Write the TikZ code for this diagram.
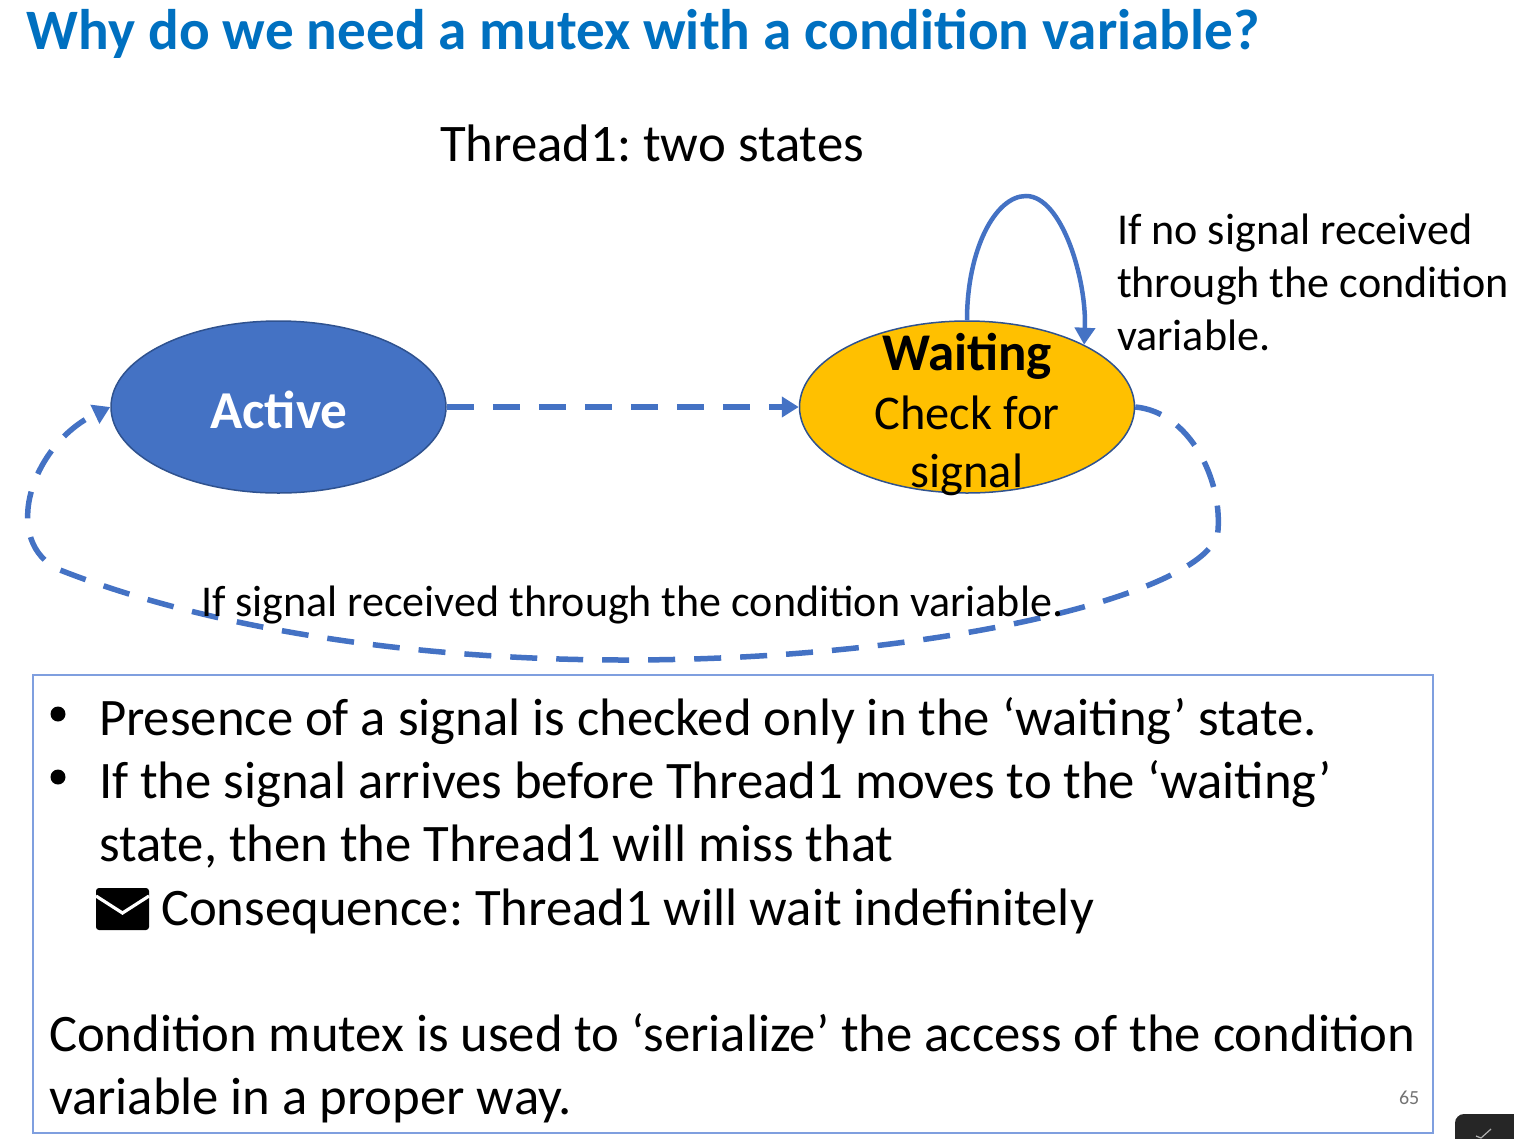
\documentclass[tikz,border=0pt]{standalone}
\usepackage{fontspec}
\setmainfont{Carlito}
\usetikzlibrary{arrows.meta,shapes.geometric}
\definecolor{bluea}{HTML}{4472C4}
\definecolor{blueb}{HTML}{2F528F}
\definecolor{titleb}{HTML}{0070C0}
\definecolor{amber}{HTML}{FFC000}
\definecolor{boxb}{HTML}{7F9FDF}
\newcommand{\fs}[1]{\fontsize{#1}{#1}\selectfont}
\tikzset{
  txt/.style={anchor=base west,inner sep=0pt,outer sep=0pt,text=black},
  state/.style={ellipse,draw=blueb,line width=1.5pt,inner sep=0pt,minimum width=335pt,minimum height=172pt},
  link/.style={draw=bluea,line width=5.5pt,-{Triangle[length=17pt,width=20pt]}},
  dashy/.style={link,dash pattern=on 27pt off 19pt},
  body/.style={txt,font=\fs{52.7}},
  side/.style={txt,font=\fs{44.1}},
  ctr/.style={anchor=base,inner sep=0pt,text=black}
}
\begin{document}
\frenchspacing
\begin{tikzpicture}[x=1pt,y=-1pt]
\useasboundingbox (0,0) rectangle (1514,1138);
\node[txt,text=titleb,font=\fs{57.2}\bfseries] (title) at (27,49) {Why do we need a mutex with a condition variable?};
\node[txt,font=\fs{52.8}] (sub) at (440,161.5) {Thread1: two states};
\node[state,fill=bluea] (active) at (278.5,407) {};
\node[state,fill=amber] (waiting) at (967,407) {};
\node[ctr,text=white,font=\fs{53.3}\bfseries] (activet) at (279,428) {Active};
\draw[link,line width=4.5pt] (waiting.north) .. controls (967,250) and (995,196) .. (1026,196) .. controls (1062,196) and (1087,280) .. (waiting.28);
\draw[dashy] (active.east) -- (waiting.west);
\draw[dashy] (waiting.east) .. controls (1190,412) and (1222,480) .. (1218,530) .. controls (1215,590) and (950,660) .. (625,660) .. controls (400,660) and (200,625) .. (60,570) .. controls (0,543) and (30,445) .. (active.west);
\node[ctr,font=\fs{53}\bfseries] (w1) at (967,370) {Waiting};
\node[ctr,font=\fs{48.4}] (w2) at (967,429) {Check for};
\node[ctr,font=\fs{48.4}] (w3) at (967,487.5) {signal};
\node[side] (n1) at (1117,244.5) {If no signal received};
\node[side] (n2) at (1117,297.5) {through the condition};
\node[side] (n3) at (1117,350.5) {variable.};
\node[txt,font=\fs{44}] (yes) at (201,616.5) {If signal received through the condition variable.};
\draw[draw=boxb,line width=1.3pt] (33,675) rectangle (1433,1133);
\fill (58,714) circle (7.5pt);
\fill (58,777) circle (7.5pt);
\node[body] (b1) at (99,735.5) {Presence of a signal is checked only in the ‘waiting’ state.};
\node[body] (b2) at (99,798.5) {If the signal arrives before Thread1 moves to the ‘waiting’};
\node[body] (b3) at (99,861.5) {state, then the Thread1 will miss that};
\fill[rounded corners=3pt] (96,888) rectangle (149,930);
\draw[white,line width=3.2pt] (96,896) -- (122.5,913) -- (149,896);
\node[body] (b4) at (161,925.5) {Consequence: Thread1 will wait indefinitely};
\node[body] (b5) at (49,1051) {Condition mutex is used to ‘serialize’ the access of the condition};
\node[body] (b6) at (49,1114.5) {variable in a proper way.};
\node[txt,text=black!55,font=\fs{20}] (pg) at (1399,1104) {65};
\fill[black!85,rounded corners=9pt] (1455,1114) rectangle (1530,1160);
\draw[white!70!black,line width=1.2pt] (1476,1136) -- (1481,1138) -- (1491,1129);
\end{tikzpicture}
\end{document}
